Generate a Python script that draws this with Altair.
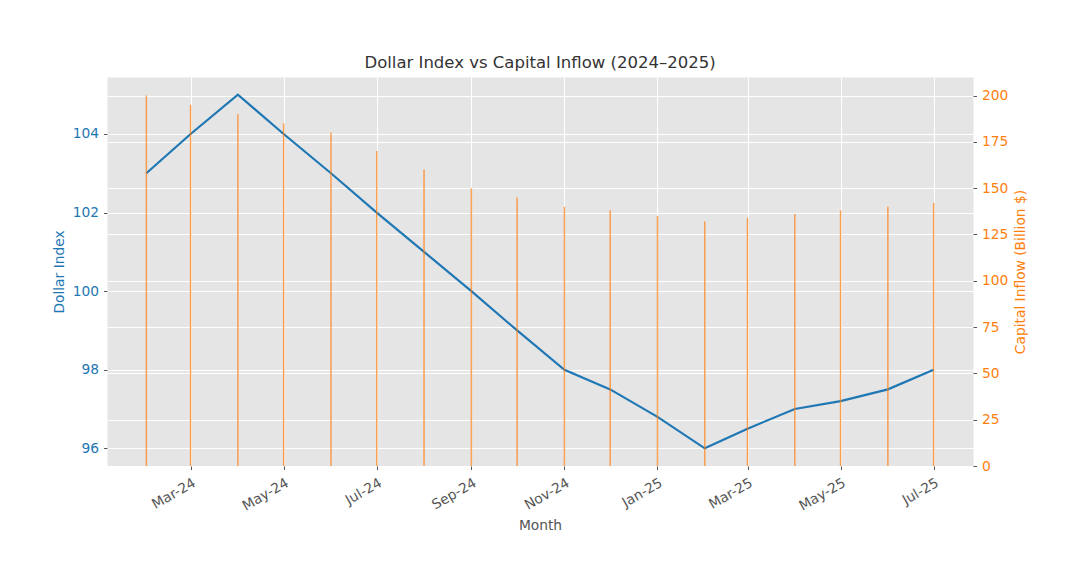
import altair as alt
import pandas as pd

months = ["2024-02-01", "2024-03-01", "2024-04-01", "2024-05-01", "2024-06-01", "2024-07-01",
          "2024-08-01", "2024-09-01", "2024-10-01", "2024-11-01", "2024-12-01", "2025-01-01",
          "2025-02-01", "2025-03-01", "2025-04-01", "2025-05-01", "2025-06-01", "2025-07-01"]
dollar_index = [103, 104, 105, 104, 103, 102, 101, 100, 99, 98, 97.5, 96.8,
                96, 96.5, 97, 97.2, 97.5, 98]
capital_inflow = [200, 195, 190, 185, 180, 170, 160, 150, 145, 140, 138, 135,
                  132, 134, 136, 138, 140, 142]

left_ticks = [96, 98, 100, 102, 104]
right_ticks = [0, 25, 50, 75, 100, 125, 150, 175, 200]
x_tick_dates = [(2024, 3), (2024, 5), (2024, 7), (2024, 9), (2024, 11),
                (2025, 1), (2025, 3), (2025, 5), (2025, 7)]

df = pd.DataFrame({"Month": months, "Dollar": dollar_index, "Inflow": capital_inflow})

BLUE = "#1f77b4"
ORANGE = "#ff7f0e"
FONT = "DejaVu Sans"
FS = 13.8

x_enc = alt.X(
    "Month:T",
    scale=alt.Scale(type="utc", nice=False, padding=0,
                    domain=[alt.DateTime(year=2024, month=1, date=6, hours=5, utc=True),
                            alt.DateTime(year=2025, month=7, date=26, hours=19, utc=True)]),
    axis=alt.Axis(
        values=[alt.DateTime(year=y, month=m, date=1, utc=True) for y, m in x_tick_dates],
        format="%b-%y", labelAngle=330, labelAlign="right", labelBaseline="top",
        labelColor="#555555", labelFontSize=FS, labelFont=FONT,
        title="Month", titleColor="#555555", titleFontSize=FS, titleFont=FONT,
        titleFontWeight="normal", titlePadding=6,
        grid=True, gridColor="white", gridWidth=1,
        domain=False, tickColor="#555555", tickSize=3.5, labelPadding=6,
    ),
)

base = alt.Chart(df)

line = base.mark_line(color=BLUE, strokeWidth=2.2).encode(
    x=x_enc,
    y=alt.Y("Dollar:Q",
            scale=alt.Scale(domain=[95.55, 105.45], nice=False, zero=False),
            axis=alt.Axis(orient="left", values=left_ticks, title="Dollar Index",
                          labelColor=BLUE, labelFontSize=FS, labelFont=FONT,
                          titleColor=BLUE, titleFontSize=FS, titleFont=FONT,
                          titleFontWeight="normal", titlePadding=6,
                          grid=True, gridColor="white", gridWidth=1,
                          domain=False, tickColor="#555555", tickSize=3.5, labelPadding=5)),
)

bars = base.mark_bar(color=ORANGE, opacity=0.7, size=1.5).encode(
    x=alt.X("Month:T"),
    y=alt.Y("Inflow:Q",
            scale=alt.Scale(domain=[0, 210], nice=False),
            axis=alt.Axis(orient="right", values=right_ticks, title="Capital Inflow (Billion $)",
                          titleAngle=270, titleBaseline="top",
                          labelColor=ORANGE, labelFontSize=FS, labelFont=FONT,
                          titleColor=ORANGE, titleFontSize=FS, titleFont=FONT,
                          titleFontWeight="normal", titlePadding=6,
                          grid=True, gridColor="white", gridWidth=1,
                          domain=False, tickColor="#555555", tickSize=3.5, labelPadding=5)),
)

chart = alt.layer(line, bars).resolve_scale(y="independent").properties(
    width=866, height=389,
    title=alt.TitleParams("Dollar Index vs Capital Inflow (2024\u20132025)",
                          fontSize=16.5, font=FONT, fontWeight="normal", color="#333333",
                          anchor="middle", offset=6),
    autosize=alt.AutoSizeParams(type="none"),
    padding={"left": 99, "top": 69, "right": 99, "bottom": 89},
    background="white",
).configure_view(fill="#E5E5E5", stroke="transparent")

chart.save("out.html", embed_options={"renderer": "svg", "actions": False})
